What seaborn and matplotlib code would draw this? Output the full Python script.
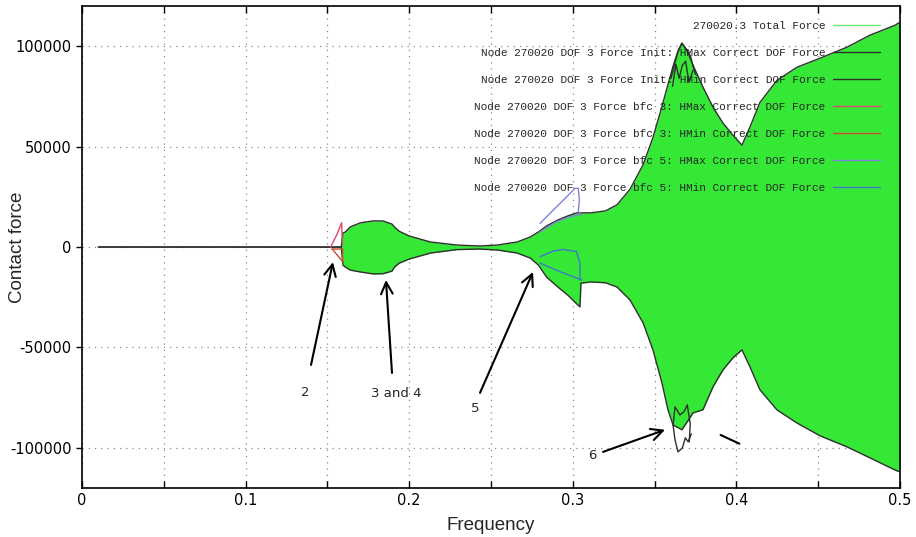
import numpy as np
import pandas as pd
import seaborn as sns
import matplotlib.pyplot as plt
from matplotlib.lines import Line2D
from matplotlib.ticker import MultipleLocator, FuncFormatter

# total force band: upper and lower edge read at the same frequencies
freq = [0.010, 0.1585, 0.1595, 0.161, 0.164, 0.170, 0.178, 0.184, 0.1895, 0.191,
        0.194, 0.200, 0.213, 0.229, 0.243, 0.254, 0.266, 0.274, 0.279, 0.284,
        0.291, 0.297, 0.3026, 0.3044, 0.3050, 0.311, 0.320, 0.327, 0.335, 0.343,
        0.349, 0.3545, 0.3582, 0.3613, 0.3645, 0.3667, 0.370, 0.3735, 0.3796, 0.3857,
        0.3918, 0.3979, 0.4034, 0.4083, 0.4144, 0.4248, 0.4370, 0.4511, 0.4676, 0.4817,
        0.4969, 0.500]
force_upper = [0, 0, 7000, 7500, 10000, 12000, 13000, 13000, 11400, 10000,
               7800, 5500, 2500, 1000, 500, 1000, 2500, 5000, 7500, 10500,
               13500, 15500, 17000, 17000, 17000, 17000, 18000, 21000, 28800, 41000,
               54500, 70000, 81000, 90000, 98000, 101500, 97500, 90500, 79600, 69650,
               61700, 55700, 50700, 59700, 72000, 83000, 89500, 94000, 99500, 105500,
               110400, 112000]
force_lower = [0, 0, -9000, -10000, -11500, -12400, -13400, -13300, -12000, -10000,
               -8000, -6000, -3000, -1300, -1000, -1500, -3000, -5500, -9000, -15000,
               -20000, -24000, -28500, -29800, -18000, -17400, -17800, -19900, -26400, -37800,
               -51200, -67700, -81100, -88600, -90000, -91000, -87000, -82600, -81000, -69650,
               -61200, -55200, -51200, -59700, -71100, -81100, -87600, -94000, -99500, -105000,
               -111000, -112000]

# Init lines: extra loops around the 0.367 resonance
init_hmax_top_f = [0.3600, 0.3640, 0.3667, 0.3690, 0.3720, 0.3735, 0.3750]
init_hmax_top_v = [84000, 96500, 101500, 99000, 95000, 90000, 86000]
init_hmin_top_f = [0.3610, 0.3630, 0.3650, 0.3670, 0.3690, 0.3710, 0.3735]
init_hmin_top_v = [80000, 91000, 84000, 90500, 92500, 82000, 88000]
init_hmax_bot_f = [0.3613, 0.3625, 0.3655, 0.3680, 0.3700, 0.3718, 0.3712]
init_hmax_bot_v = [-88600, -79600, -83600, -82000, -78600, -88000, -97000]
init_hmin_bot_f = [0.3613, 0.3625, 0.3643, 0.3670, 0.3688, 0.3705, 0.3725]
init_hmin_bot_v = [-88600, -96000, -102000, -100000, -95000, -97000, -93000]

# bfc 3 lines
bfc3_hmax_f = [0.1520, 0.1560, 0.1587, 0.1590, 0.1592]
bfc3_hmax_v = [0, 6500, 12100, 5000, 1000]
bfc3_hmin_f = [0.1525, 0.1593, 0.1593, 0.1535]
bfc3_hmin_v = [-1000, -1000, -7300, -1500]

# bfc 5 lines
bfc5_hmax_f = [0.2800, 0.2881, 0.2963, 0.3013, 0.3034, 0.3040, 0.3034, 0.3054]
bfc5_hmax_v = [11800, 18400, 25000, 29200, 29200, 23400, 17600, 16000]
bfc5_hmax2_f = [0.2800, 0.2901, 0.2983, 0.3044]
bfc5_hmax2_v = [7600, 12600, 15100, 16000]
bfc5_hmin_f = [0.2800, 0.2881, 0.2940, 0.3023, 0.3044, 0.3044]
bfc5_hmin_v = [-4800, -2000, -1200, -2300, -8000, -16400]
bfc5_hmin2_f = [0.2800, 0.2922, 0.3003, 0.3054]
bfc5_hmin2_v = [-8000, -12300, -14800, -16400]

labels = ["270020.3 Total Force",
          "Node 270020 DOF 3 Force Init: HMax Correct DOF Force",
          "Node 270020 DOF 3 Force Init: HMin Correct DOF Force",
          "Node 270020 DOF 3 Force bfc 3: HMax Correct DOF Force",
          "Node 270020 DOF 3 Force bfc 3: HMin Correct DOF Force",
          "Node 270020 DOF 3 Force bfc 5: HMax Correct DOF Force",
          "Node 270020 DOF 3 Force bfc 5: HMin Correct DOF Force"]

# annotation arrows: (label, label pos, arrow tail, arrow head)
notes = [("2", (0.1363, -72600), (0.1400, -58700), (0.1534, -7500)),
         ("3 and 4", (0.1919, -73100), (0.1895, -62700), (0.1858, -16400)),
         ("5", (0.2402, -80600), (0.2433, -72600), (0.2757, -12400)),
         ("6", (0.3117, -104000), (0.3185, -102000), (0.3564, -91000))]

GREEN = "#36e836"
BLACK = "#2e2e2e"

sns.set_theme(style="ticks")
plt.rcParams["font.family"] = ["DejaVu Sans"]

fig = plt.figure(figsize=(9.16, 5.37), dpi=100)
ax = fig.add_axes([0.0895, 0.0912, 0.8930, 0.8976])

ax.fill_between(freq, force_lower, force_upper, color=GREEN, lw=0, zorder=2)


def line(x, y, color, lw=1.0):
    df = pd.DataFrame({"f": x, "v": y})
    sns.lineplot(data=df, x="f", y="v", sort=False, estimator=None,
                 color=color, lw=lw, ax=ax, zorder=3)
    return ax.get_lines()[-1]


h_init_max = line(freq, force_upper, BLACK)
h_init_min = line(freq, force_lower, BLACK)
line(init_hmax_top_f, init_hmax_top_v, BLACK)
line(init_hmin_top_f, init_hmin_top_v, BLACK)
line(init_hmax_bot_f, init_hmax_bot_v, BLACK)
line(init_hmin_bot_f, init_hmin_bot_v, BLACK)

h_b3_max = line(bfc3_hmax_f, bfc3_hmax_v, "#e0466e")
h_b3_min = line(bfc3_hmin_f, bfc3_hmin_v, "#cc4b2a")

h_b5_max = line(bfc5_hmax_f, bfc5_hmax_v, "#7d83d8")
line(bfc5_hmax2_f, bfc5_hmax2_v, "#7d83d8")
h_b5_min = line(bfc5_hmin_f, bfc5_hmin_v, "#3f78c8")
line(bfc5_hmin2_f, bfc5_hmin2_v, "#3f78c8")

for txt, pos, tail, head in notes:
    ax.annotate("", xy=head, xytext=tail, zorder=5,
                arrowprops=dict(arrowstyle="->,head_length=0.7,head_width=0.35",
                                color="black", lw=1.5, shrinkA=0, shrinkB=0))
    ax.text(pos[0], pos[1], txt, ha="center", va="center", fontsize=9.5, zorder=5)
ax.annotate("", xy=(0.4034, -98500), xytext=(0.3888, -93000),
            arrowprops=dict(arrowstyle="-", color="black", lw=1.5))

ax.set_xlim(0, 0.5)
ax.set_ylim(-120000, 120000)
ax.xaxis.set_major_locator(MultipleLocator(0.1))
ax.xaxis.set_minor_locator(MultipleLocator(0.05))
ax.yaxis.set_major_locator(MultipleLocator(50000))
ax.xaxis.set_major_formatter(FuncFormatter(lambda v, p: f"{v:g}"))
ax.yaxis.set_major_formatter(FuncFormatter(lambda v, p: f"{int(round(v))}"))
ax.set_axisbelow(True)
ax.grid(True, which="both", axis="x", ls=(0, (1, 4)), color="#8a8a8a", lw=0.9)
ax.grid(True, which="major", axis="y", ls=(0, (1, 4)), color="#8a8a8a", lw=0.9)
ax.tick_params(axis="x", which="both", direction="in", length=5, width=1,
               top=True, labelsize=10.5, colors="black")
ax.tick_params(axis="y", direction="out", length=4, width=1, labelsize=10.5,
               colors="black")
for s in ax.spines.values():
    s.set_color("black")
    s.set_linewidth(1.2)

ax.set_xlabel("Frequency", fontsize=13.5, family="Liberation Sans", labelpad=6.5)
ax.set_ylabel("Contact force", fontsize=13.5, family="Liberation Sans")
ax.yaxis.set_label_coords(-0.068, 0.5)

handles = [Line2D([], [], color="#6aea6a", lw=1), h_init_max, h_init_min,
           h_b3_max, h_b3_min, h_b5_max, h_b5_min]
leg = ax.legend(handles, labels, loc="upper right", bbox_to_anchor=(0.981, 0.979),
                frameon=False, markerfirst=False, borderaxespad=0,
                prop={"family": "Liberation Mono", "size": 8},
                labelspacing=1.54, handlelength=4.2, handletextpad=0.7)
leg.set_zorder(6)

fig.savefig("out.png", dpi=100)
